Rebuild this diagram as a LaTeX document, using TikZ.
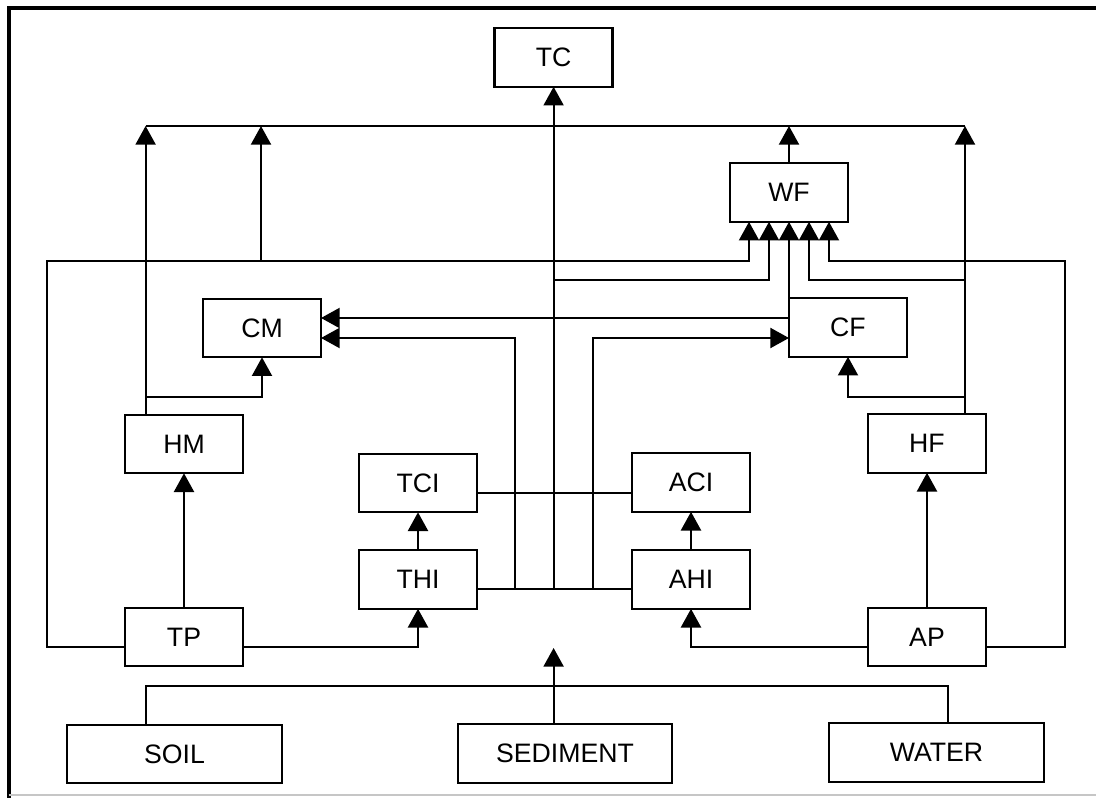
\documentclass[tikz,border=0pt]{standalone}
\usepackage{fontspec}
\setmainfont{Liberation Sans}
\usetikzlibrary{arrows.meta}
\begin{document}
\begin{tikzpicture}[x=0.75pt,y=-0.75pt,
  box/.style={draw, line width=1.7pt, minimum width=88.5pt, minimum height=44pt,
    inner sep=0pt, outer sep=0pt, font=\fontsize{20}{24}\selectfont},
  widebox/.style={box, minimum width=161pt},
  conn/.style={line width=1.6pt},
  arr/.style={conn, -{Triangle[length=14pt,width=15pt]}},
  frameline/.style={line width=3pt}]
\useasboundingbox (0,0) rectangle (1096,798);
% frame
\draw[frameline] (8.5,798) -- (8.5,8.5) -- (1096,8.5);
\draw[gray!45, line width=0.8pt] (8.5,795) -- (1096,795);
% columns and rows
\coordinate (xL) at (47,0);
\coordinate (xHM) at (145.6,0);
\coordinate (xCMa) at (261,0);
\coordinate (xC1) at (515,0);
\coordinate (xC2) at (553.6,0);
\coordinate (xC3) at (592.6,0);
\coordinate (xW1) at (749,0);
\coordinate (xW2) at (769,0);
\coordinate (xW4) at (809,0);
\coordinate (xW5) at (829,0);
\coordinate (xHF) at (965,0);
\coordinate (xR) at (1065,0);
\coordinate (xWA) at (947.6,0);
\coordinate (yBus) at (0,126);
\coordinate (yIn) at (0,261);
\coordinate (y280) at (0,280);
\coordinate (yCM1) at (0,318);
\coordinate (yCM2) at (0,338);
\coordinate (y397) at (0,397);
\coordinate (yTCI) at (0,493);
\coordinate (yTHI) at (0,589);
\coordinate (yTP) at (0,647);
\coordinate (yCol) at (0,686);
% nodes
\node[box] (TC) at (553.6,57.5) {TC};
\node[box] (WF) at (789,192.5) {WF};
\node[box] (CM) at (262,328) {CM};
\node[box] (CF) at (848,327.5) {CF};
\node[box] (HM) at (184,444) {HM};
\node[box] (HF) at (927,443.5) {HF};
\node[box] (TCI) at (418,483) {TCI};
\node[box] (ACI) at (691,482.5) {ACI};
\node[box] (THI) at (418,579.5) {THI};
\node[box] (AHI) at (691,579.5) {AHI};
\node[box] (TP) at (184,637) {TP};
\node[box] (AP) at (927,637) {AP};
\node[widebox] (SOIL) at (174.5,754) {SOIL};
\node[widebox] (SED) at (565,753.5) {SEDIMENT};
\node[widebox] (WATER) at (936.5,752.5) {WATER};
\coordinate (sedtip) at (553.6,648);
% bottom collector
\draw[conn] (SOIL.north -| xHM) -- (xHM |- yCol) -- (xWA |- yCol) -- (WATER.north -| xWA);
\draw[arr] (SED.north -| xC2) -- (sedtip);
% left chain
\draw[arr] (TP.north) -- (HM.south);
\draw[arr] (TP.east |- yTP) -| (THI.south);
\draw[arr] (TP.west |- yTP) -| (xL |- yIn) -| (WF.south -| xW1);
\draw[arr] (xCMa |- yIn) -- (xCMa |- yBus);
\draw[arr] (HM.north -| xHM) -- (xHM |- yBus);
\draw[arr] (xHM |- y397) -| (CM.south);
% bus and TC
\draw[conn] (xHM |- yBus) -- (xHF |- yBus);
\draw[arr] (xC2 |- yTHI) -- (TC.south);
\draw[arr] (WF.north) -- (WF.north |- yBus);
% right chain
\draw[arr] (HF.north -| xHF) -- (xHF |- yBus);
\draw[arr] (xHF |- y397) -| (CF.south);
\draw[arr] (xHF |- y280) -| (WF.south -| xW4);
\draw[arr] (AP.north) -- (HF.south);
\draw[arr] (AP.east |- yTP) -| (xR |- yIn) -| (WF.south -| xW5);
\draw[arr] (AP.west |- yTP) -| (AHI.south);
% middle
\draw[arr] (THI.north) -- (TCI.south);
\draw[arr] (AHI.north) -- (ACI.south);
\draw[conn] (TCI.east |- yTCI) -- (ACI.west |- yTCI);
\draw[conn] (THI.east |- yTHI) -- (AHI.west |- yTHI);
\draw[arr] (xC1 |- yTHI) |- (CM.east |- yCM2);
\draw[arr] (xC3 |- yTHI) |- (CF.west |- yCM2);
\draw[arr] (CF.west |- yCM1) -- (CM.east |- yCM1);
\draw[arr] (xC2 |- y280) -| (WF.south -| xW2);
\draw[arr] (CF.north west) -- (WF.south);
\end{tikzpicture}
\end{document}
